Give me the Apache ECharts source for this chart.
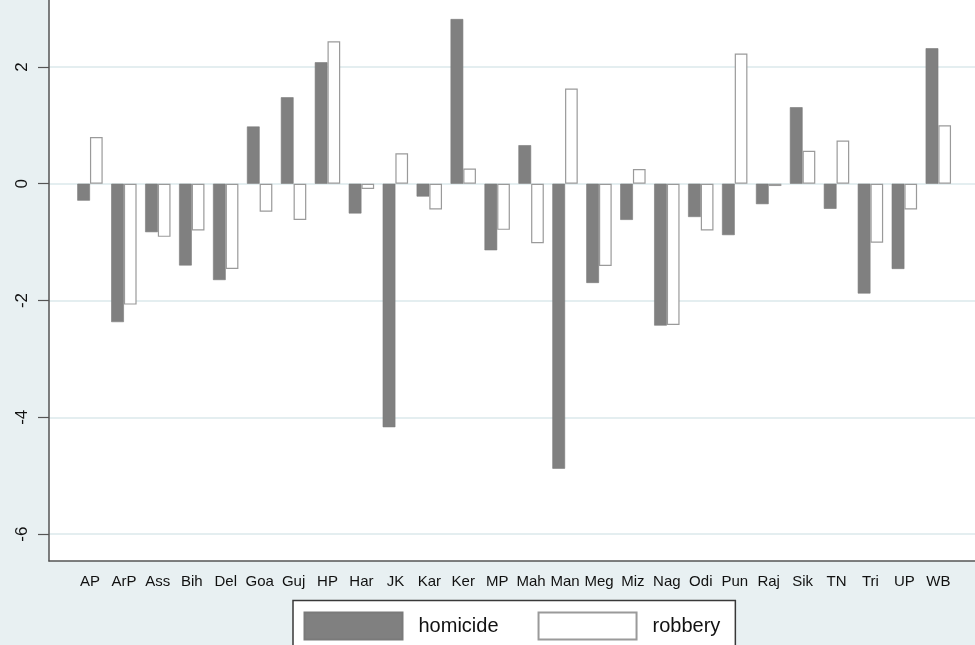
<!DOCTYPE html>
<html>
<head>
<meta charset="utf-8">
<script src="https://cdn.jsdelivr.net/npm/echarts@6/dist/echarts.min.js"></script>
<style>
  html, body { margin: 0; padding: 0; background: #e8f0f2; }
  #chart { width: 975px; height: 645px; }
</style>
</head>
<body>
<div id="chart"></div>
<script>
// State abbreviations
const states = ['AP','ArP','Ass','Bih','Del','Goa','Guj','HP','Har','JK','Kar','Ker','MP','Mah',
  'Man','Meg','Miz','Nag','Odi','Pun','Raj','Sik','TN','Tri','UP','WB'];

// Standardised scores per state
const homicide = [-0.29, -2.37, -0.83, -1.40, -1.65, 0.98, 1.48, 2.08, -0.51, -4.17, -0.22, 2.82, -1.14, 0.66,
  -4.88, -1.70, -0.62, -2.43, -0.57, -0.88, -0.35, 1.31, -0.43, -1.88, -1.46, 2.32];
const robbery = [0.80, -2.07, -0.91, -0.80, -1.46, -0.48, -0.62, 2.44, -0.09, 0.52, -0.44, 0.26, -0.79, -1.02,
  1.63, -1.41, 0.25, -2.42, -0.80, 2.23, -0.04, 0.565, 0.74, -1.01, -0.44, 1.00];

// Y-axis tick values
const yTicks = [-6, -4, -2, 0, 2];
const yMin = -6.461, yMax = 3.146;

const chart = echarts.init(document.getElementById('chart'));
const axisColor = '#555555';
const gridColor = '#e4eef0';
const font = 'Liberation Sans, Arial, sans-serif';

chart.setOption({
  backgroundColor: '#e8f0f2',
  animation: false,
  grid: [
    // frame: white plot region, y axis, gridlines, baseline
    { left: 49, right: -6, top: 0, bottom: 84, show: true, backgroundColor: '#ffffff', borderWidth: 0 },
    // bars
    { left: 73.0, right: 19.7, top: 0, bottom: 84 }
  ],
  xAxis: [
    { gridIndex: 0, type: 'value', min: 0, max: 1, axisLabel: { show: false }, axisTick: { show: false },
      splitLine: { show: false }, axisLine: { show: true, onZero: false, lineStyle: { color: axisColor, width: 1.5 } } },
    { gridIndex: 1, type: 'category', data: states, axisLine: { show: false }, axisTick: { show: false },
      axisLabel: { interval: 0, margin: 13, fontFamily: font, fontSize: 15, color: '#111111' } }
  ],
  yAxis: [
    { gridIndex: 0, type: 'value', min: yMin, max: yMax,
      axisLine: { show: true, lineStyle: { color: axisColor, width: 1.5 } },
      axisTick: { show: true, length: 11, customValues: yTicks, lineStyle: { color: axisColor, width: 1.2 } },
      axisLabel: { customValues: yTicks, rotate: 90, margin: 18, fontFamily: font,
        fontSize: 17, color: '#111111' },
      splitLine: { show: true, lineStyle: { color: gridColor, width: 2 } } },
    { gridIndex: 1, type: 'value', min: yMin, max: yMax, show: false, splitLine: { show: false } }
  ],
  legend: {
    left: 293, top: 600.5,
    padding: [11, 15, 30, 10.5],
    backgroundColor: '#ffffff', borderColor: '#383838', borderWidth: 1.5, borderRadius: 0,
    itemWidth: 98, itemHeight: 27, itemGap: 39, icon: 'rect',
    textStyle: { fontFamily: font, fontSize: 20, color: '#111111', padding: [0, 0, 0, 11] },
    data: ['homicide', 'robbery']
  },
  series: [
    { name: 'homicide', type: 'bar', xAxisIndex: 1, yAxisIndex: 1, data: homicide, barWidth: 12.7, barGap: '0%',
      itemStyle: { color: '#808080', borderColor: '#7a7a7a', borderWidth: 0.6 } },
    { name: 'robbery', type: 'bar', xAxisIndex: 1, yAxisIndex: 1, data: robbery, barWidth: 12.7, barGap: '0%',
      itemStyle: { color: '#ffffff', borderColor: '#9a9a9a', borderWidth: 1.2 } }
  ]
});
</script>
</body>
</html>
